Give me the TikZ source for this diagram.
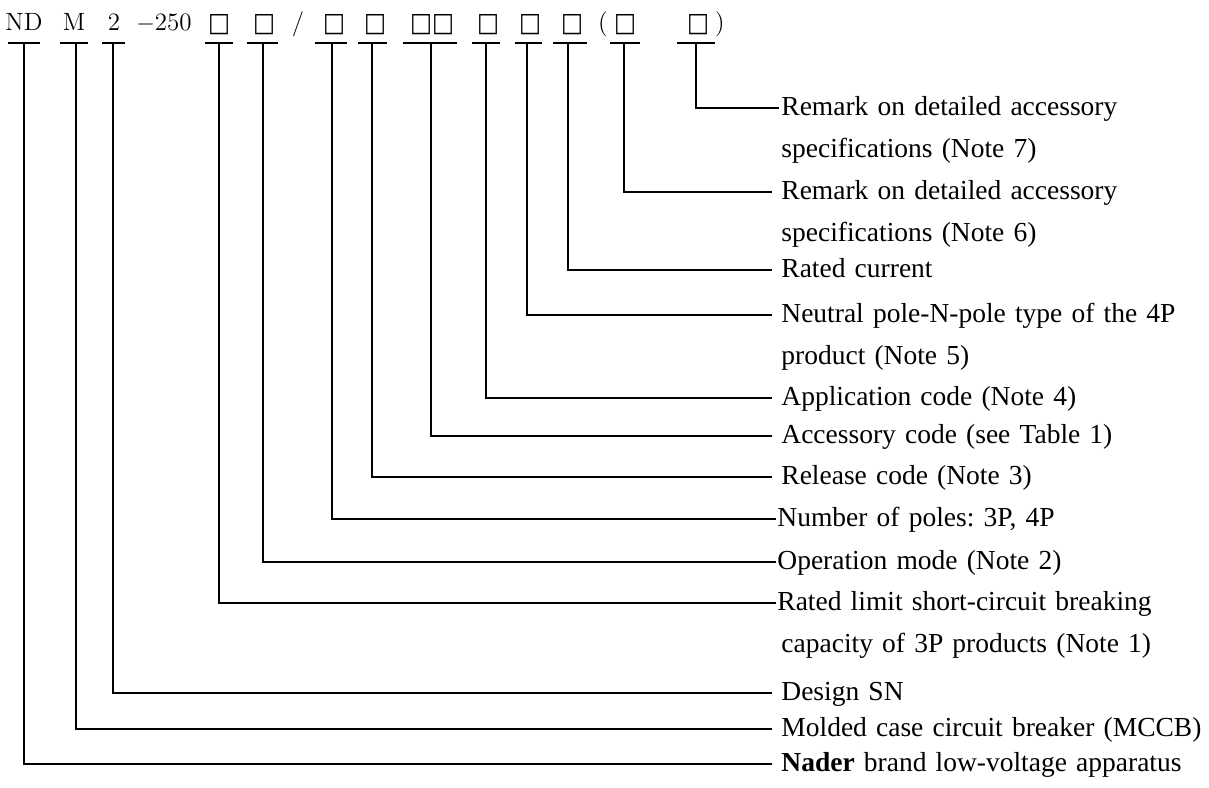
\documentclass[tikz,border=0pt]{standalone}
\usepackage{fontspec}
\usepackage{graphicx}
\newfontfamily\tnr{Liberation Serif}
\newfontfamily\dvs{DejaVu Sans}
\newcommand\bx{\resizebox{11pt}{8.5pt}{\dvs □}}
\frenchspacing
\begin{document}
\begin{tikzpicture}[x=0.5pt,y=-0.5pt,
  lbl/.style={anchor=base west, inner sep=0pt, font=\tnr\fontsize{13.75}{21}\selectfont, text width=215pt, align=left},
  code/.style={anchor=base, inner sep=0pt, font=\fontsize{12.5}{14}\selectfont},
  bar/.style={line width=1.2pt},
  conn/.style={line width=1pt}]
\useasboundingbox (0,0) rectangle (1209,787);
% code line
\node[code] (tND) at (24,30) {ND};
\node[code] (tM) at (74,30) {M};
\node[code] (t2) at (114,30) {2};
\node[code] (t250) at (164,30) {$-$250};
\node[code] (b1) at (219,31) {\bx};
\node[code] (b2) at (264,31) {\bx};
\node[code] (tsl) at (298,30) {/};
\node[code] (b3) at (334,31) {\bx};
\node[code] (b4) at (375,31) {\bx};
\node[code] (b5) at (432,31) {\bx\bx};
\node[code] (b6) at (488,31) {\bx};
\node[code] (b7) at (530,31) {\bx};
\node[code] (b8) at (572,31) {\bx};
\node[code] (tlp) at (603,30) {(};
\node[code] (b9) at (625,31) {\bx};
\node[code] (b10) at (698,31) {\bx};
\node[code] (trp) at (720,30) {)};
% tee bars
\draw[bar] (8,43) -- (40,43);
\draw[bar] (60,43) -- (88,43);
\draw[bar] (102,43) -- (125,43);
\draw[bar] (205,43) -- (233,43);
\draw[bar] (247,43) -- (278,43);
\draw[bar] (315,43) -- (347,43);
\draw[bar] (358,43) -- (387,43);
\draw[bar] (403,43) -- (457,43);
\draw[bar] (472,43) -- (500,43);
\draw[bar] (515,43) -- (542,43);
\draw[bar] (553,43) -- (587,43);
\draw[bar] (610,43) -- (640,43);
\draw[bar] (677,43) -- (715,43);
\coordinate (rND) at (24,43);
\coordinate (rM) at (76,43);
\coordinate (r2) at (113,43);
\coordinate (r1) at (219,43);
\coordinate (r2b) at (263,43);
\coordinate (r3) at (332,43);
\coordinate (r4) at (372,43);
\coordinate (r5) at (431,43);
\coordinate (r6) at (486,43);
\coordinate (r7) at (527,43);
\coordinate (r8) at (568,43);
\coordinate (r9) at (624,43);
\coordinate (r10) at (696,43);
% labels
\node[lbl] (n7) at (781,115) {Remark on detailed accessory\\specifications (Note 7)};
\node[lbl] (n6) at (781,199) {Remark on detailed accessory\\specifications (Note 6)};
\node[lbl] (rc) at (781,277) {Rated current};
\node[lbl] (ne) at (781,322) {Neutral pole-N-pole type of the 4P\\product (Note 5)};
\node[lbl] (ap) at (781,405) {Application code (Note 4)};
\node[lbl] (ac) at (781,443) {Accessory code (see Table 1)};
\node[lbl] (re) at (781,484) {Release code (Note 3)};
\node[lbl] (np) at (777,526) {Number of poles: 3P, 4P};
\node[lbl] (op) at (777,569) {Operation mode (Note 2)};
\node[lbl] (rl) at (777,610) {Rated limit short-circuit breaking\\\hspace*{2pt}capacity of 3P products (Note 1)};
\node[lbl] (ds) at (781,700) {Design SN};
\node[lbl] (mo) at (781,736) {Molded case circuit breaker (MCCB)};
\node[lbl] (na) at (781,771) {\textbf{Nader} brand low-voltage apparatus};
% connectors
\draw[conn] (r10) |- ([shift={(-2,-7)}]n7.base west);
\draw[conn] (r9) |- ([shift={(-9,-7)}]n6.base west);
\draw[conn] (r8) |- ([shift={(-9,-7)}]rc.base west);
\draw[conn] (r7) |- ([shift={(-9,-7)}]ne.base west);
\draw[conn] (r6) |- ([shift={(-9,-7)}]ap.base west);
\draw[conn] (r5) |- ([shift={(-9,-7)}]ac.base west);
\draw[conn] (r4) |- ([shift={(-9,-7)}]re.base west);
\draw[conn] (r3) |- ([shift={(-1,-7)}]np.base west);
\draw[conn] (r2b) |- ([shift={(-1,-7)}]op.base west);
\draw[conn] (r1) |- ([shift={(-1,-7)}]rl.base west);
\draw[conn] (r2) |- ([shift={(-9,-7)}]ds.base west);
\draw[conn] (rM) |- ([shift={(-9,-7)}]mo.base west);
\draw[conn] (rND) |- ([shift={(-9,-7)}]na.base west);
\end{tikzpicture}
\end{document}
